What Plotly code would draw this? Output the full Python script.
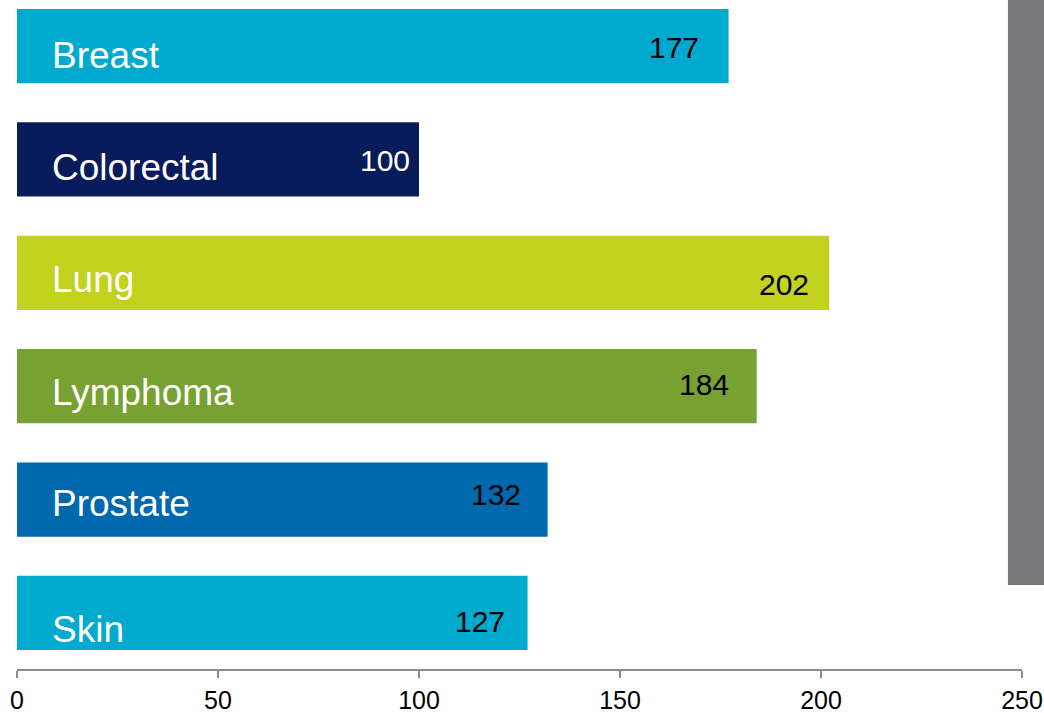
import plotly.graph_objects as go

categories = ["Breast", "Colorectal", "Lung", "Lymphoma", "Prostate", "Skin"]
values = [177, 100, 202, 184, 132, 127]
bar_colors = ["#00A9CE", "#081C5B", "#C1D21F", "#77A231", "#0068AD", "#00A9CE"]
value_text_colors = ["#000000", "#FFFFFF", "#000000", "#000000", "#000000", "#000000"]
tick_values = [0, 50, 100, 150, 200, 250]

# label placement tweaks (pixels)
name_dy = [-9, -8, -7, -6, -4, -17]
value_dx = [-28, -7, -18, -26, -25, -21]
value_dy = [-1, -1, -12, 2, 5, -9]

idx = list(range(len(categories)))

fig = go.Figure()
fig.add_trace(go.Bar(
    x=values, y=idx, orientation="h",
    marker=dict(color=bar_colors, line=dict(width=0)),
    width=0.655, hoverinfo="skip", showlegend=False,
))

for i, (c, v) in enumerate(zip(categories, values)):
    fig.add_annotation(
        x=0, y=i, xref="x", yref="y", text=c, showarrow=False,
        xanchor="left", yanchor="middle", xshift=33, yshift=name_dy[i],
        font=dict(family="Liberation Sans, Arial", size=37, color="#FFFFFF"),
    )
    fig.add_annotation(
        x=v, y=i, xref="x", yref="y", text=str(v), showarrow=False,
        xanchor="right", yanchor="middle", xshift=value_dx[i], yshift=value_dy[i],
        font=dict(family="Liberation Sans, Arial", size=30, color=value_text_colors[i]),
    )

fig.add_shape(type="rect", xref="paper", yref="paper",
              x0=0.986, x1=1.03, y0=0.1256, y1=1.01,
              fillcolor="#77777A", line=dict(width=0), layer="below")

fig.update_layout(
    width=1044, height=713,
    margin=dict(l=17, r=22, t=0, b=44, autoexpand=False),
    plot_bgcolor="#FFFFFF", paper_bgcolor="#FFFFFF",
    xaxis=dict(range=[0, 250], tickvals=tick_values, showgrid=False, zeroline=False,
               showline=True, linecolor="#8C8C8C", linewidth=1.5,
               ticks="outside", ticklen=7, tickcolor="#8C8C8C", tickwidth=1.5,
               tickfont=dict(family="Liberation Sans, Arial", size=25, color="#000000"),
               ticklabelstandoff=1, automargin=False, fixedrange=True),
    yaxis=dict(range=[5.494, -0.406], showticklabels=False, showgrid=False,
               zeroline=False, showline=False, ticks="", automargin=False, fixedrange=True),
    bargap=0.35,
)

fig.write_html("out.html")
